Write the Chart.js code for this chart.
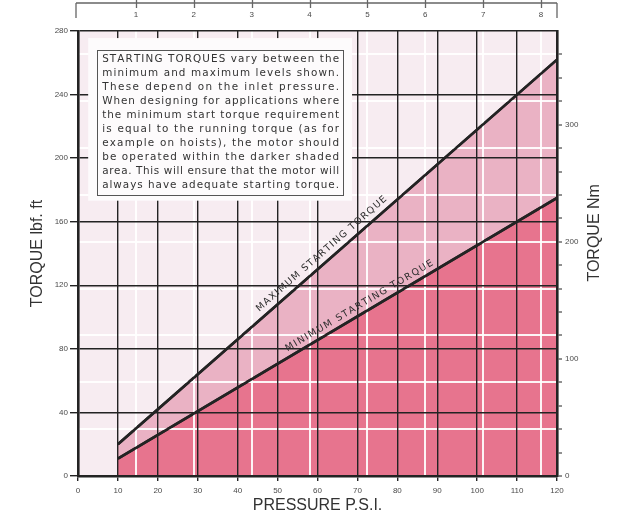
<!DOCTYPE html>
<html>
<head>
<meta charset="utf-8">
<script src="https://cdn.jsdelivr.net/npm/chart.js@4.4.1/dist/chart.umd.min.js"></script>
<style>
  html, body { margin: 0; padding: 0; background: #fff; }
  #torque { display: block; }
</style>
</head>
<body>
<canvas id="torque" width="617" height="524"></canvas>
<script>
// starting torque of the air motor against inlet pressure
const pressurePsi = [10, 120];
const maxTorque = [20, 262];   // lbf.ft
const minTorque = [11, 175];   // lbf.ft

const psiPerBar = 14.5;
const nmPerLbfFt = 1.3558;
const barLabels = [1, 2, 3, 4, 5, 6, 7, 8];
const nmLabels = [0, 100, 200, 300];

const noteLines = [
  'STARTING TORQUES vary between the',
  'minimum and maximum levels shown.',
  'These depend on the inlet pressure.',
  'When designing for applications where',
  'the minimum start torque requirement',
  'is equal to the running torque (as for',
  'example on hoists), the motor should',
  'be operated within the darker shaded',
  'area. This will ensure that the motor will',
  'always have adequate starting torque.'
];

const INK = '#232323';
const TEXT = '#4a4a4a';
const FONT = "'Liberation Sans', Arial, sans-serif";
const NOTE_FONT = "'DejaVu Sans', sans-serif";
const WHITE_RULE = 'rgba(255,255,255,0.92)';

const tickFont = { family: FONT, size: 8 };

// spread a string over a fixed width, letter by letter
function drawSpread(ctx, text, left, y, width) {
  const chars = [...text];
  const widths = chars.map(c => ctx.measureText(c).width);
  const total = widths.reduce((a, b) => a + b, 0);
  const gap = chars.length > 1 ? (width - total) / (chars.length - 1) : 0;
  let x = left;
  chars.forEach((c, i) => {
    ctx.fillText(c, x, y);
    x += widths[i] + gap;
  });
}

function valueAt(xs, ys, p) {
  const t = (p - xs[0]) / (xs[1] - xs[0]);
  return ys[0] + t * (ys[1] - ys[0]);
}

const plotBackground = {
  id: 'plotBackground',
  beforeDraw(chart) {
    const { ctx, chartArea: a } = chart;
    ctx.save();
    ctx.fillStyle = 'rgb(247,236,241)';
    ctx.fillRect(a.left, a.top, a.right - a.left, a.bottom - a.top);
    ctx.restore();
  }
};

const overlay = {
  id: 'overlay',
  afterDraw(chart) {
    const { ctx, chartArea: a } = chart;
    const xs = chart.scales.x, ys = chart.scales.y, xb = chart.scales.x2;

    // torque lines back on top of the white rules
    [0, 1].forEach(i => chart.getDatasetMeta(i).dataset.draw(ctx, a));

    // captions along the lines
    const captions = [
      { text: 'MAXIMUM STARTING TORQUE', data: maxTorque, at: 62.5, offset: 9 },
      { text: 'MINIMUM STARTING TORQUE', data: minTorque, at: 71.5, offset: 8 }
    ];
    ctx.save();
    ctx.fillStyle = '#2e2e2e';
    ctx.font = '9.5px ' + NOTE_FONT;
    ctx.textBaseline = 'middle';
    ctx.textAlign = 'left';
    captions.forEach(c => {
      const x0 = xs.getPixelForValue(pressurePsi[0]), y0 = ys.getPixelForValue(c.data[0]);
      const x1 = xs.getPixelForValue(pressurePsi[1]), y1 = ys.getPixelForValue(c.data[1]);
      const angle = Math.atan2(y1 - y0, x1 - x0);
      ctx.save();
      ctx.translate(xs.getPixelForValue(c.at), ys.getPixelForValue(valueAt(pressurePsi, c.data, c.at)));
      ctx.rotate(angle);
      drawSpread(ctx, c.text, -85, -c.offset, 170);
      ctx.restore();
    });
    ctx.restore();

    // note box
    const bl = xs.getPixelForValue(4.8), br = xs.getPixelForValue(66.4);
    const bt = ys.getPixelForValue(268), bb = ys.getPixelForValue(177);
    ctx.save();
    ctx.fillStyle = '#fdfbfc';
    ctx.fillRect(bl - 9, bt - 12, br - bl + 18, bb - bt + 18);
    ctx.strokeStyle = '#555';
    ctx.lineWidth = 1;
    ctx.strokeRect(Math.round(bl) + 0.5, Math.round(bt) + 0.5, Math.round(br - bl), Math.round(bb - bt));
    ctx.fillStyle = '#333';
    ctx.font = '10.4px ' + NOTE_FONT;
    ctx.textBaseline = 'middle';
    noteLines.forEach((line, i) => {
      drawSpread(ctx, line, bl + 5, bt + 9.5 + i * 14, br - bl - 9);
    });
    ctx.restore();

    // right-hand axis title, set a little above the middle of the axis
    ctx.save();
    ctx.fillStyle = '#333';
    ctx.font = '16px ' + FONT;
    ctx.textAlign = 'center';
    ctx.textBaseline = 'middle';
    ctx.translate(595, ys.getPixelForValue(153));
    ctx.rotate(-Math.PI / 2);
    ctx.fillText('TORQUE Nm', 0, 0);
    ctx.restore();

    // bar scale rule across the top
    const r0 = a.left - 2, r1 = a.right;
    ctx.save();
    ctx.strokeStyle = '#666';
    ctx.lineWidth = 1.3;
    ctx.beginPath();
    ctx.moveTo(r0, 3); ctx.lineTo(r1, 3);
    ctx.moveTo(r0, 3); ctx.lineTo(r0, 18);
    ctx.moveTo(r1, 3); ctx.lineTo(r1, 18);
    barLabels.forEach(b => {
      const px = Math.round(xb.getPixelForValue(b)) + 0.5;
      ctx.moveTo(px, 0); ctx.lineTo(px, 8);
    });
    ctx.stroke();
    ctx.restore();
  }
};

const isNmLabel = v => nmLabels.includes(Math.round(v));
const isNmRule = v => Math.round(v) > 0 && Math.round(v) % 40 === 0;

new Chart(document.getElementById('torque'), {
  type: 'line',
  data: {
    datasets: [
      {
        label: 'Minimum starting torque',
        data: pressurePsi.map((p, i) => ({ x: p, y: minTorque[i] })),
        borderColor: INK,
        borderWidth: 2.6,
        pointRadius: 0,
        fill: 'origin',
        backgroundColor: 'rgb(231,116,142)'
      },
      {
        label: 'Maximum starting torque',
        data: pressurePsi.map((p, i) => ({ x: p, y: maxTorque[i] })),
        borderColor: INK,
        borderWidth: 2.6,
        pointRadius: 0,
        fill: '-1',
        backgroundColor: 'rgb(234,178,196)'
      }
    ]
  },
  options: {
    responsive: false,
    animation: false,
    devicePixelRatio: 1,
    layout: { padding: 0 },
    plugins: { legend: { display: false }, tooltip: { enabled: false } },
    scales: {
      x: {
        type: 'linear', position: 'bottom', min: 0, max: 120,
        afterFit: s => { s.height = 48; },
        ticks: { stepSize: 10, padding: 5, color: TEXT, font: tickFont, maxRotation: 0 },
        grid: { color: INK, lineWidth: 1.4, tickLength: 5, tickColor: INK, z: 2 },
        border: { color: INK, width: 2.6, z: 3 },
        title: { display: true, text: 'PRESSURE P.S.I.', color: '#333', font: { family: FONT, size: 16 }, padding: { top: 0, bottom: 9 } }
      },
      x2: {
        type: 'linear', position: 'top', min: 0, max: 120 / psiPerBar,
        afterFit: s => { s.height = 31; },
        ticks: {
          stepSize: 1, includeBounds: false, autoSkip: false, padding: 11, maxRotation: 0,
          color: TEXT, font: tickFont,
          callback: v => barLabels.includes(Math.round(v)) ? String(Math.round(v)) : ''
        },
        grid: {
          drawTicks: false, lineWidth: 2, z: 1,
          color: ctx => ctx.tick && ctx.tick.value > 0.5 ? WHITE_RULE : 'rgba(0,0,0,0)'
        },
        border: { display: false }
      },
      y: {
        type: 'linear', position: 'left', min: 0, max: 280,
        afterFit: s => { s.width = 78; },
        ticks: { stepSize: 40, padding: 2, color: TEXT, font: tickFont },
        grid: { color: INK, lineWidth: 1.4, tickLength: 8, tickColor: INK, z: 2 },
        border: { color: INK, width: 2.6, z: 3 },
        title: { display: true, text: 'TORQUE lbf. ft', color: '#333', font: { family: FONT, size: 16 }, padding: { top: 28, bottom: 0 } }
      },
      y2: {
        type: 'linear', position: 'right', min: 0, max: 280 * nmPerLbfFt,
        afterFit: s => { s.width = 60; },
        ticks: {
          stepSize: 20, includeBounds: false, autoSkip: false, padding: 3,
          color: TEXT, font: tickFont,
          callback: v => isNmLabel(v) ? String(Math.round(v)) : ''
        },
        grid: {
          lineWidth: 2, tickLength: 5, tickColor: INK, tickWidth: 1, z: 1,
          color: ctx => ctx.tick && isNmRule(ctx.tick.value) ? WHITE_RULE : 'rgba(0,0,0,0)'
        },
        border: { color: INK, width: 2.6, z: 3 }
      }
    }
  },
  plugins: [plotBackground, overlay]
});
</script>
</body>
</html>
